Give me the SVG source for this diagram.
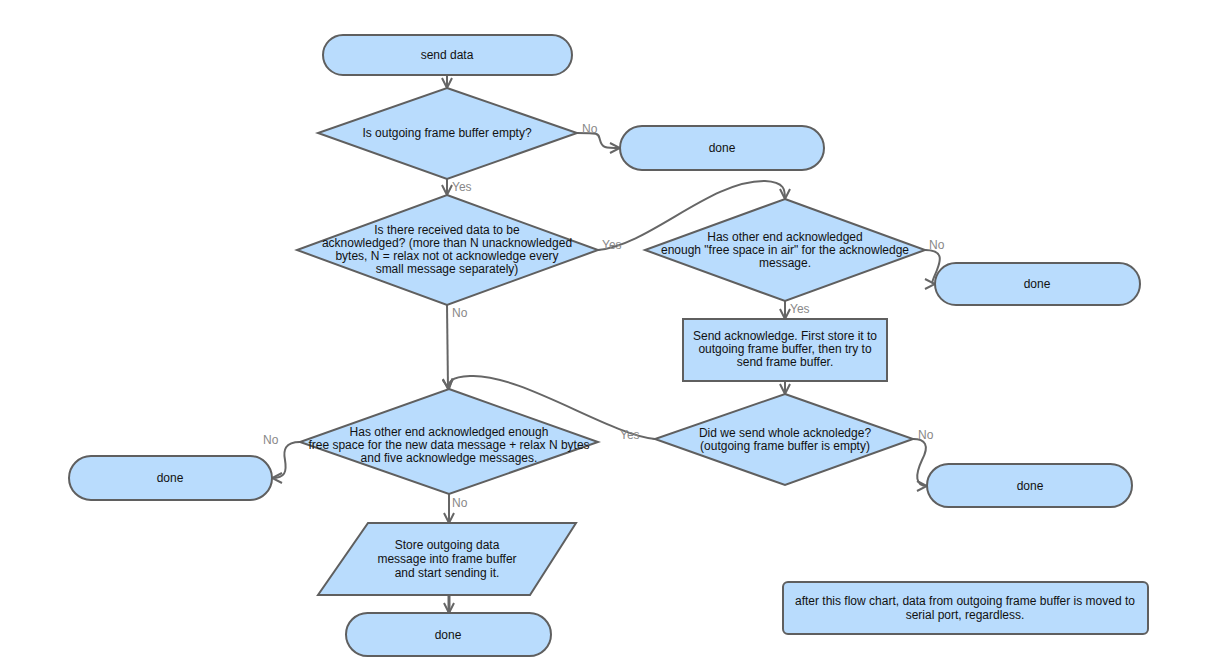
<svg xmlns="http://www.w3.org/2000/svg" width="1207" height="660" viewBox="0 0 1207 660">
<style>
.n{fill:#b9dcfd;stroke:#5f5f5f;stroke-width:2}
.t{font-family:"Liberation Sans",Arial,sans-serif;font-size:12px;fill:#111;text-anchor:middle}
.c{fill:none;stroke:#666;stroke-width:2}
.l{font-family:"Liberation Sans",Arial,sans-serif;font-size:12px;fill:#888}
</style>
<defs>
<marker id="a" viewBox="0 0 12 12" refX="11" refY="6" markerWidth="12" markerHeight="12" markerUnits="userSpaceOnUse" orient="auto">
<path d="M1,1 L11,6 L1,11" fill="none" stroke="#666" stroke-width="2"/>
</marker>
</defs>
<rect width="1207" height="660" fill="#fff"/>
<g id="connectors">
<path class="c" marker-end="url(#a)" d="M447,75 L447,88"/>
<path class="c" marker-end="url(#a)" d="M577,133 C600,133 598,133 600,140 C602,148 605,148 620,148"/>
<path class="c" marker-end="url(#a)" d="M447,179 L447,195"/>
<path class="c" marker-end="url(#a)" d="M598,250 C650,245 710,180 765,181 C785,182 785,190 785,199"/>
<path class="c" marker-end="url(#a)" d="M925,250 C945,250 940,262 937,270 C933,280 930,284 935,284"/>
<path class="c" marker-end="url(#a)" d="M785,301 L785,319"/>
<path class="c" marker-end="url(#a)" d="M785,381 L785,394"/>
<path class="c" marker-end="url(#a)" d="M913,439 C925,439 930,445 922,460 C915,475 915,486 927,486"/>
<path class="c" marker-end="url(#a)" d="M655,439 C610,435 520,373 470,376 C450,377 448,382 449,389"/>
<path class="c" marker-end="url(#a)" d="M447,305 L448,389"/>
<path class="c" marker-end="url(#a)" d="M300,442 C285,442 283,450 285,460 C287,472 285,478 272,478"/>
<path class="c" marker-end="url(#a)" d="M449,494 L449,523"/>
<path class="c" marker-end="url(#a)" d="M449,595 L449,613" style="stroke-width:3"/>
<text class="l" x="582" y="133">No</text>
<text class="l" x="452" y="191">Yes</text>
<text class="l" x="602" y="249">Yes</text>
<text class="l" x="929" y="249">No</text>
<text class="l" x="790" y="313">Yes</text>
<text class="l" x="918" y="439">No</text>
<text class="l" x="620" y="439">Yes</text>
<text class="l" x="452" y="317">No</text>
<text class="l" x="263" y="444">No</text>
<text class="l" x="452" y="507">No</text>
</g>
<g id="send-data"><rect class="n" x="323" y="35" width="249" height="40" rx="20"/><text class="t" x="447" y="59">send data</text></g>
<g id="d1"><path class="n" d="M447,88 L577,133 L447,179 L318,133 Z"/><text class="t" x="447" y="137">Is outgoing frame buffer empty?</text></g>
<g id="done1"><rect class="n" x="620" y="126" width="204" height="44" rx="22"/><text class="t" x="722" y="152">done</text></g>
<g id="d2"><path class="n" d="M447,195 L598,250 L447,305 L297,250 Z"/><text class="t"><tspan x="447" y="234">Is there received data to be</tspan><tspan x="447" y="247">acknowledged? (more than N unacknowledged</tspan><tspan x="447" y="260">bytes, N = relax not ot acknowledge every</tspan><tspan x="447" y="273">small message separately)</tspan></text></g>
<g id="d3"><path class="n" d="M785,199 L925,250 L785,301 L645,250 Z"/><text class="t"><tspan x="785" y="241">Has other end acknowledged</tspan><tspan x="785" y="254">enough "free space in air" for the acknowledge</tspan><tspan x="785" y="267">message.</tspan></text></g>
<g id="done2"><rect class="n" x="935" y="263" width="205" height="42" rx="21"/><text class="t" x="1037" y="288">done</text></g>
<g id="send-ack"><rect class="n" x="683" y="319" width="204" height="62"/><text class="t"><tspan x="785" y="340">Send acknowledge. First store it to</tspan><tspan x="785" y="353">outgoing frame buffer, then try to</tspan><tspan x="785" y="366">send frame buffer.</tspan></text></g>
<g id="d4"><path class="n" d="M785,394 L913,439 L785,485 L655,439 Z"/><text class="t"><tspan x="785" y="437">Did we send whole acknoledge?</tspan><tspan x="785" y="450">(outgoing frame buffer is empty)</tspan></text></g>
<g id="done3"><rect class="n" x="927" y="464" width="205" height="43" rx="21.5"/><text class="t" x="1030" y="490">done</text></g>
<g id="d5"><path class="n" d="M449,389 L598,442 L449,494 L300,442 Z"/><text class="t"><tspan x="449" y="436">Has other end acknowledged enough</tspan><tspan x="449" y="449">free space for the new data message + relax N bytes</tspan><tspan x="449" y="462">and five acknowledge messages.</tspan></text></g>
<g id="done4"><rect class="n" x="69" y="456" width="203" height="44" rx="22"/><text class="t" x="170" y="482">done</text></g>
<g id="store"><path class="n" d="M368,523 L576,523 L530,595 L318,595 Z"/><text class="t"><tspan x="447" y="549">Store outgoing data</tspan><tspan x="447" y="563">message into frame buffer</tspan><tspan x="447" y="577">and start sending it.</tspan></text></g>
<g id="done5"><rect class="n" x="346" y="613" width="205" height="43" rx="21.5"/><text class="t" x="448" y="639">done</text></g>
<g id="note"><rect class="n" x="783" y="582" width="365" height="52" rx="5"/><text class="t"><tspan x="965" y="605">after this flow chart, data from outgoing frame buffer is moved to</tspan><tspan x="965" y="619">serial port, regardless.</tspan></text></g>
</svg>
